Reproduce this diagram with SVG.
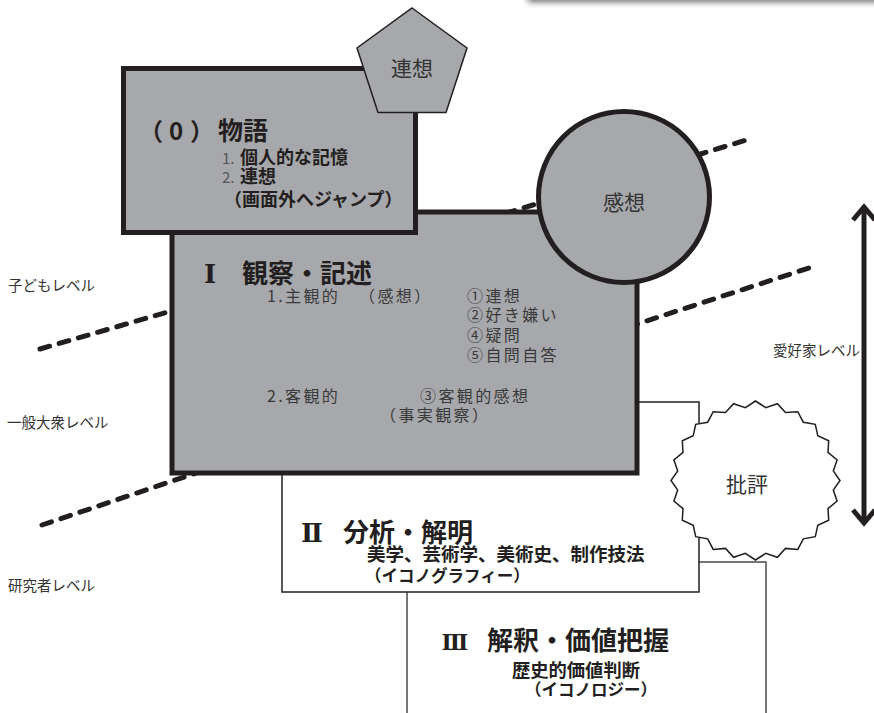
<svg xmlns="http://www.w3.org/2000/svg" width="874" height="713" viewBox="0 0 874 713">
<defs>
<filter id="blur" x="-10%" y="-100%" width="120%" height="300%"><feGaussianBlur stdDeviation="3"/></filter>
<marker id="chev" viewBox="-2 -2 22 28" refX="14" refY="12" markerWidth="22" markerHeight="28" markerUnits="userSpaceOnUse" orient="auto-start-reverse">
<path d="M1,1 L14,12 L1,23" fill="none" stroke="#231f20" stroke-width="5"/>
</marker>
<style>
text{font-family:"Noto Sans CJK JP","Noto Sans",sans-serif;}
.gray{fill:#a7a8ab;stroke:#231f20;stroke-width:5;}
.thin{fill:#a7a8ab;stroke:#231f20;stroke-width:1.5;}
.white{fill:#ffffff;stroke:#231f20;stroke-width:1.5;}
.dash{fill:none;stroke:#231f20;stroke-width:5;stroke-linecap:round;stroke-dasharray:10 10;}
.title{font-weight:bold;fill:#231f20;}
.roman{font-family:"DejaVu Serif","Liberation Serif","Noto Sans CJK JP",serif;font-weight:bold;fill:#231f20;text-anchor:middle;}
.sub{font-weight:bold;fill:#231f20;}
.num{font-weight:normal;fill:#555;font-size:15px;}
.light{fill:#3a3a3a;font-size:16px;letter-spacing:2.4px;}
.lvl{fill:#333;font-size:14.5px;}
.lab{fill:#333;font-size:21px;text-anchor:middle;}
</style>
</defs>
<rect x="528" y="-20" width="360" height="22" fill="#6a6a6a" filter="url(#blur)"/>

<g id="connectors">
<line class="dash" x1="505" y1="213.5" x2="753" y2="138"/>
<line class="dash" x1="40" y1="349" x2="178" y2="309"/>
<line class="dash" x1="628" y1="327" x2="818" y2="265"/>
<line class="dash" x1="42" y1="525" x2="205" y2="470"/>
<line x1="864" y1="207" x2="864" y2="523" stroke="#231f20" stroke-width="5" marker-start="url(#chev)" marker-end="url(#chev)"/>
</g>

<g id="level-labels">
<text class="lvl" x="8" y="291">子どもレベル</text>
<text class="lvl" x="7" y="428">一般大衆レベル</text>
<text class="lvl" x="8" y="591">研究者レベル</text>
<text class="lvl" x="773" y="356">愛好家レベル</text>
</g>

<g id="box3">
<rect x="407" y="562" width="359" height="170" fill="#fff" stroke="#4a4a4a" stroke-width="1.5"/>
<text class="roman" x="455" y="650" font-size="22">Ⅲ</text>
<text class="title" x="487" y="650" font-size="26">解釈・価値把握</text>
<text class="sub" font-size="18.3"><tspan x="512" y="677">歴史的価値判断</tspan><tspan x="525" y="696" font-size="16.5">（イコノロジー）</tspan></text>
</g>

<g id="box2">
<rect class="white" x="282" y="402" width="417" height="190"/>
<text class="roman" x="312" y="542" font-size="26">Ⅱ</text>
<text class="title" x="343" y="542" font-size="26">分析・解明</text>
<text class="sub" font-size="18.5"><tspan x="367" y="561">美学、芸術学、美術史、制作技法</tspan><tspan x="365" y="582" font-size="16.5">（イコノグラフィー）</tspan></text>
</g>

<g id="hihyo">
<polygon class="white" points="755.5,401 765.7,407.6 777.4,403.7 785.5,412.6 797.8,411.7 803.3,422.2 815.3,424.3 817.8,435.8 828.7,440.8 828,452.4 837.1,459.9 833.3,470.9 840,480.5 833.3,490.1 837.1,501.1 828,508.6 828.7,520.3 817.8,525.3 815.3,536.7 803.3,538.8 797.8,549.4 785.5,548.4 777.4,557.3 765.7,553.4 755.5,560 745.3,553.4 733.6,557.3 725.5,548.4 713.2,549.4 707.7,538.8 695.7,536.7 693.2,525.3 682.3,520.3 683,508.6 673.9,501.1 677.7,490.1 671,480.5 677.7,470.9 673.9,459.9 683,452.4 682.3,440.8 693.2,435.8 695.7,424.3 707.7,422.2 713.2,411.7 725.5,412.6 733.6,403.7 745.3,407.6"/>
<text class="lab" x="747" y="492">批評</text>
</g>

<g id="box1">
<rect class="gray" x="172" y="212" width="465" height="261"/>
<text class="roman" x="210" y="283" font-size="26">Ⅰ</text>
<text class="title" x="242" y="283" font-size="26">観察・記述</text>
<text class="light" x="267" y="302">1.<tspan x="285">主観的</tspan><tspan x="359">（感想）</tspan></text>
<text class="light"><tspan x="467" y="302">①連想</tspan><tspan x="467" y="321">②好き嫌い</tspan><tspan x="467" y="341">④疑問</tspan><tspan x="467" y="361">⑤自問自答</tspan></text>
<text class="light"><tspan x="267" y="402">2.</tspan><tspan x="285" y="402">客観的</tspan><tspan x="420" y="402">③客観的感想</tspan><tspan x="380" y="421">（事実観察）</tspan></text>
</g>

<g id="box0">
<rect class="gray" x="123.5" y="68.5" width="292" height="164"/>
<text class="title" font-size="24" y="140"><tspan x="139">（</tspan><tspan x="169">0</tspan><tspan x="190">）</tspan><tspan x="218" font-size="25">物語</tspan></text>
<text class="sub" font-size="18"><tspan class="num" x="222" y="164">1.</tspan><tspan x="240" y="164">個人的な記憶</tspan><tspan class="num" x="222" y="183">2.</tspan><tspan x="240" y="183">連想</tspan><tspan x="224" y="206">（画面外へジャンプ）</tspan></text>
</g>

<g id="kanso">
<circle class="gray" cx="624" cy="197" r="85.5"/>
<text class="lab" x="624" y="210">感想</text>
</g>

<g id="renso">
<polygon class="thin" points="412,8 467,48 446,112.6 378,112.6 357,48"/>
<text class="lab" x="412" y="76">連想</text>
</g>
</svg>
